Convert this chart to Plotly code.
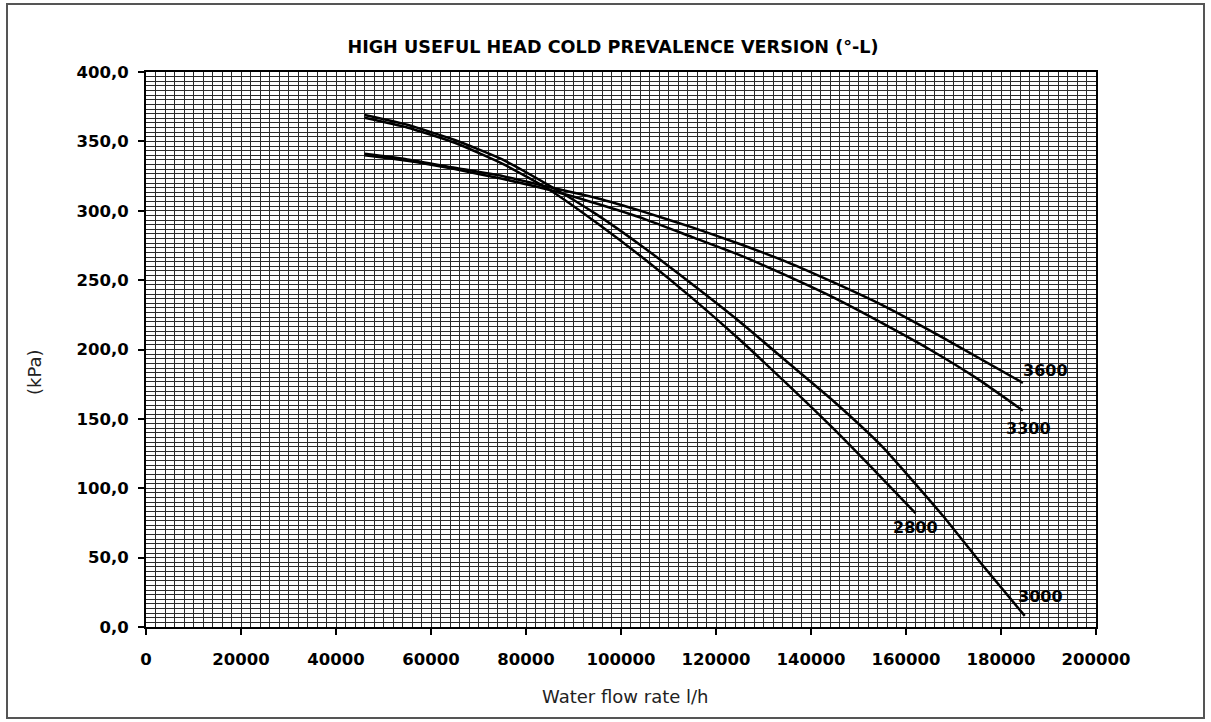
import plotly.graph_objects as go

# ---------------- data ----------------
flow_3600 = [46000, 55000, 65000, 75000, 85000, 95000, 105000, 115000, 125000, 135000, 145000, 155000, 167000, 184600]
head_3600 = [341, 337, 331, 325, 317, 309, 299, 288, 276, 263, 248, 232, 210, 176]

flow_3300 = [46000, 55000, 65000, 75000, 85000, 95000, 105000, 115000, 125000, 135000, 145000, 155000, 165000, 175000, 184600]
head_3300 = [340, 336, 330, 323, 315, 305, 294, 281, 268, 253, 237, 219, 200, 179, 156]

flow_3000 = [46000, 55000, 65000, 75000, 85000, 95000, 105000, 115000, 125000, 135000, 145000, 155000, 167800, 176000, 185000]
head_3000 = [369, 362, 351, 337, 318, 297, 273, 247, 220, 191, 162, 130, 80, 45, 8]

flow_2800 = [46000, 55000, 65000, 75000, 85000, 95000, 105000, 115000, 125000, 135000, 145000, 155000, 162000]
head_2800 = [367, 360, 349, 334, 315, 291, 265, 237, 207, 175, 142, 107, 82]

series_names = ["3600", "3300", "3000", "2800"]

x_tick_vals = [0, 20000, 40000, 60000, 80000, 100000, 120000, 140000, 160000, 180000, 200000]
x_tick_text = ["0", "20000", "40000", "60000", "80000", "100000", "120000", "140000", "160000", "180000", "200000"]
y_tick_vals = [0, 50, 100, 150, 200, 250, 300, 350, 400]
y_tick_text = ["0,0", "50,0", "100,0", "150,0", "200,0", "250,0", "300,0", "350,0", "400,0"]

title_text = "HIGH USEFUL HEAD COLD PREVALENCE VERSION (°-L)"
x_title = "Water flow rate l/h"
y_title = "(kPa)"

# ---------------- layout geometry ----------------
W, H = 1211, 722
L, R, T, B = 146, 115, 72, 95
PW, PH = W - L - R, H - T - B


def px_x(px):
    return (px - L) / PW


def px_y(py):
    return (H - B - py) / PH


LABEL_FONT = dict(family="DejaVu Sans", size=16, color="black", weight="bold")
TICK_FONT = dict(family="DejaVu Sans", size=16.5, color="black", weight="bold")
TITLE_FONT = dict(family="DejaVu Sans", size=17.6, color="black", weight="bold")
AXT_FONT = dict(family="DejaVu Sans", size=18, color="#222")

fig = go.Figure()
curves = [
    (flow_3600, head_3600),
    (flow_3300, head_3300),
    (flow_3000, head_3000),
    (flow_2800, head_2800),
]
for name, (xs, ys) in zip(series_names, curves):
    fig.add_trace(go.Scatter(x=xs, y=ys, mode="lines", name=name,
                             line=dict(color="black", width=2.5, shape="spline", smoothing=0.5),
                             showlegend=False, hoverinfo="x+y+name"))

# curve labels (pixel positions of the reference converted to paper units)
label_pos = {
    "3600": (1045, 370),
    "3300": (1028, 428),
    "2800": (915, 527),
    "3000": (1040, 596),
}
for name in series_names:
    px, py = label_pos[name]
    fig.add_annotation(x=px_x(px), y=px_y(py), xref="paper", yref="paper",
                       text=name, showarrow=False, font=LABEL_FONT,
                       xanchor="center", yanchor="middle")

# axis titles
fig.add_annotation(x=px_x(625), y=px_y(696), xref="paper", yref="paper",
                   text=x_title, showarrow=False, font=AXT_FONT,
                   xanchor="center", yanchor="middle")
fig.add_annotation(x=px_x(34), y=px_y(372), xref="paper", yref="paper",
                   text=y_title, showarrow=False, textangle=-90, font=AXT_FONT,
                   xanchor="center", yanchor="middle")

# outer frame of the chart
fig.add_shape(type="rect", xref="paper", yref="paper",
              x0=px_x(7), x1=px_x(1204), y0=px_y(718), y1=px_y(4),
              line=dict(color="#555", width=2), fillcolor="rgba(0,0,0,0)",
              layer="below")

grid_color = "#2a2a2a"
fig.update_xaxes(range=[0, 200000], tickvals=x_tick_vals, ticktext=x_tick_text,
                 showline=True, linecolor="black", linewidth=2, mirror=True,
                 ticks="outside", ticklen=6, tickwidth=1.5, tickcolor="black",
                 ticklabelstandoff=10,
                 tickfont=TICK_FONT,
                 showgrid=True, gridcolor=grid_color, gridwidth=1,
                 minor=dict(dtick=2000, tick0=0, showgrid=True, gridcolor=grid_color,
                            gridwidth=1, ticks=""),
                 zeroline=False)
fig.update_yaxes(range=[0, 400], tickvals=y_tick_vals, ticktext=y_tick_text,
                 showline=True, linecolor="black", linewidth=2, mirror=True,
                 ticks="outside", ticklen=6, tickwidth=1.5, tickcolor="black",
                 ticklabelstandoff=6,
                 tickfont=TICK_FONT,
                 showgrid=True, gridcolor=grid_color, gridwidth=1,
                 minor=dict(dtick=10 / 3, tick0=0, showgrid=True, gridcolor=grid_color,
                            gridwidth=1, ticks=""),
                 zeroline=False)

fig.update_layout(
    width=W, height=H,
    margin=dict(l=L, r=R, t=T, b=B),
    paper_bgcolor="white", plot_bgcolor="white",
    title=dict(text=title_text, x=613 / W, xanchor="center", xref="container",
               y=1 - 47 / H, yanchor="middle", yref="container", font=TITLE_FONT),
)

fig.write_html("out.html",
               config={"displayModeBar": False},
               post_script="document.body.style.margin='0';document.body.style.overflow='hidden';")
